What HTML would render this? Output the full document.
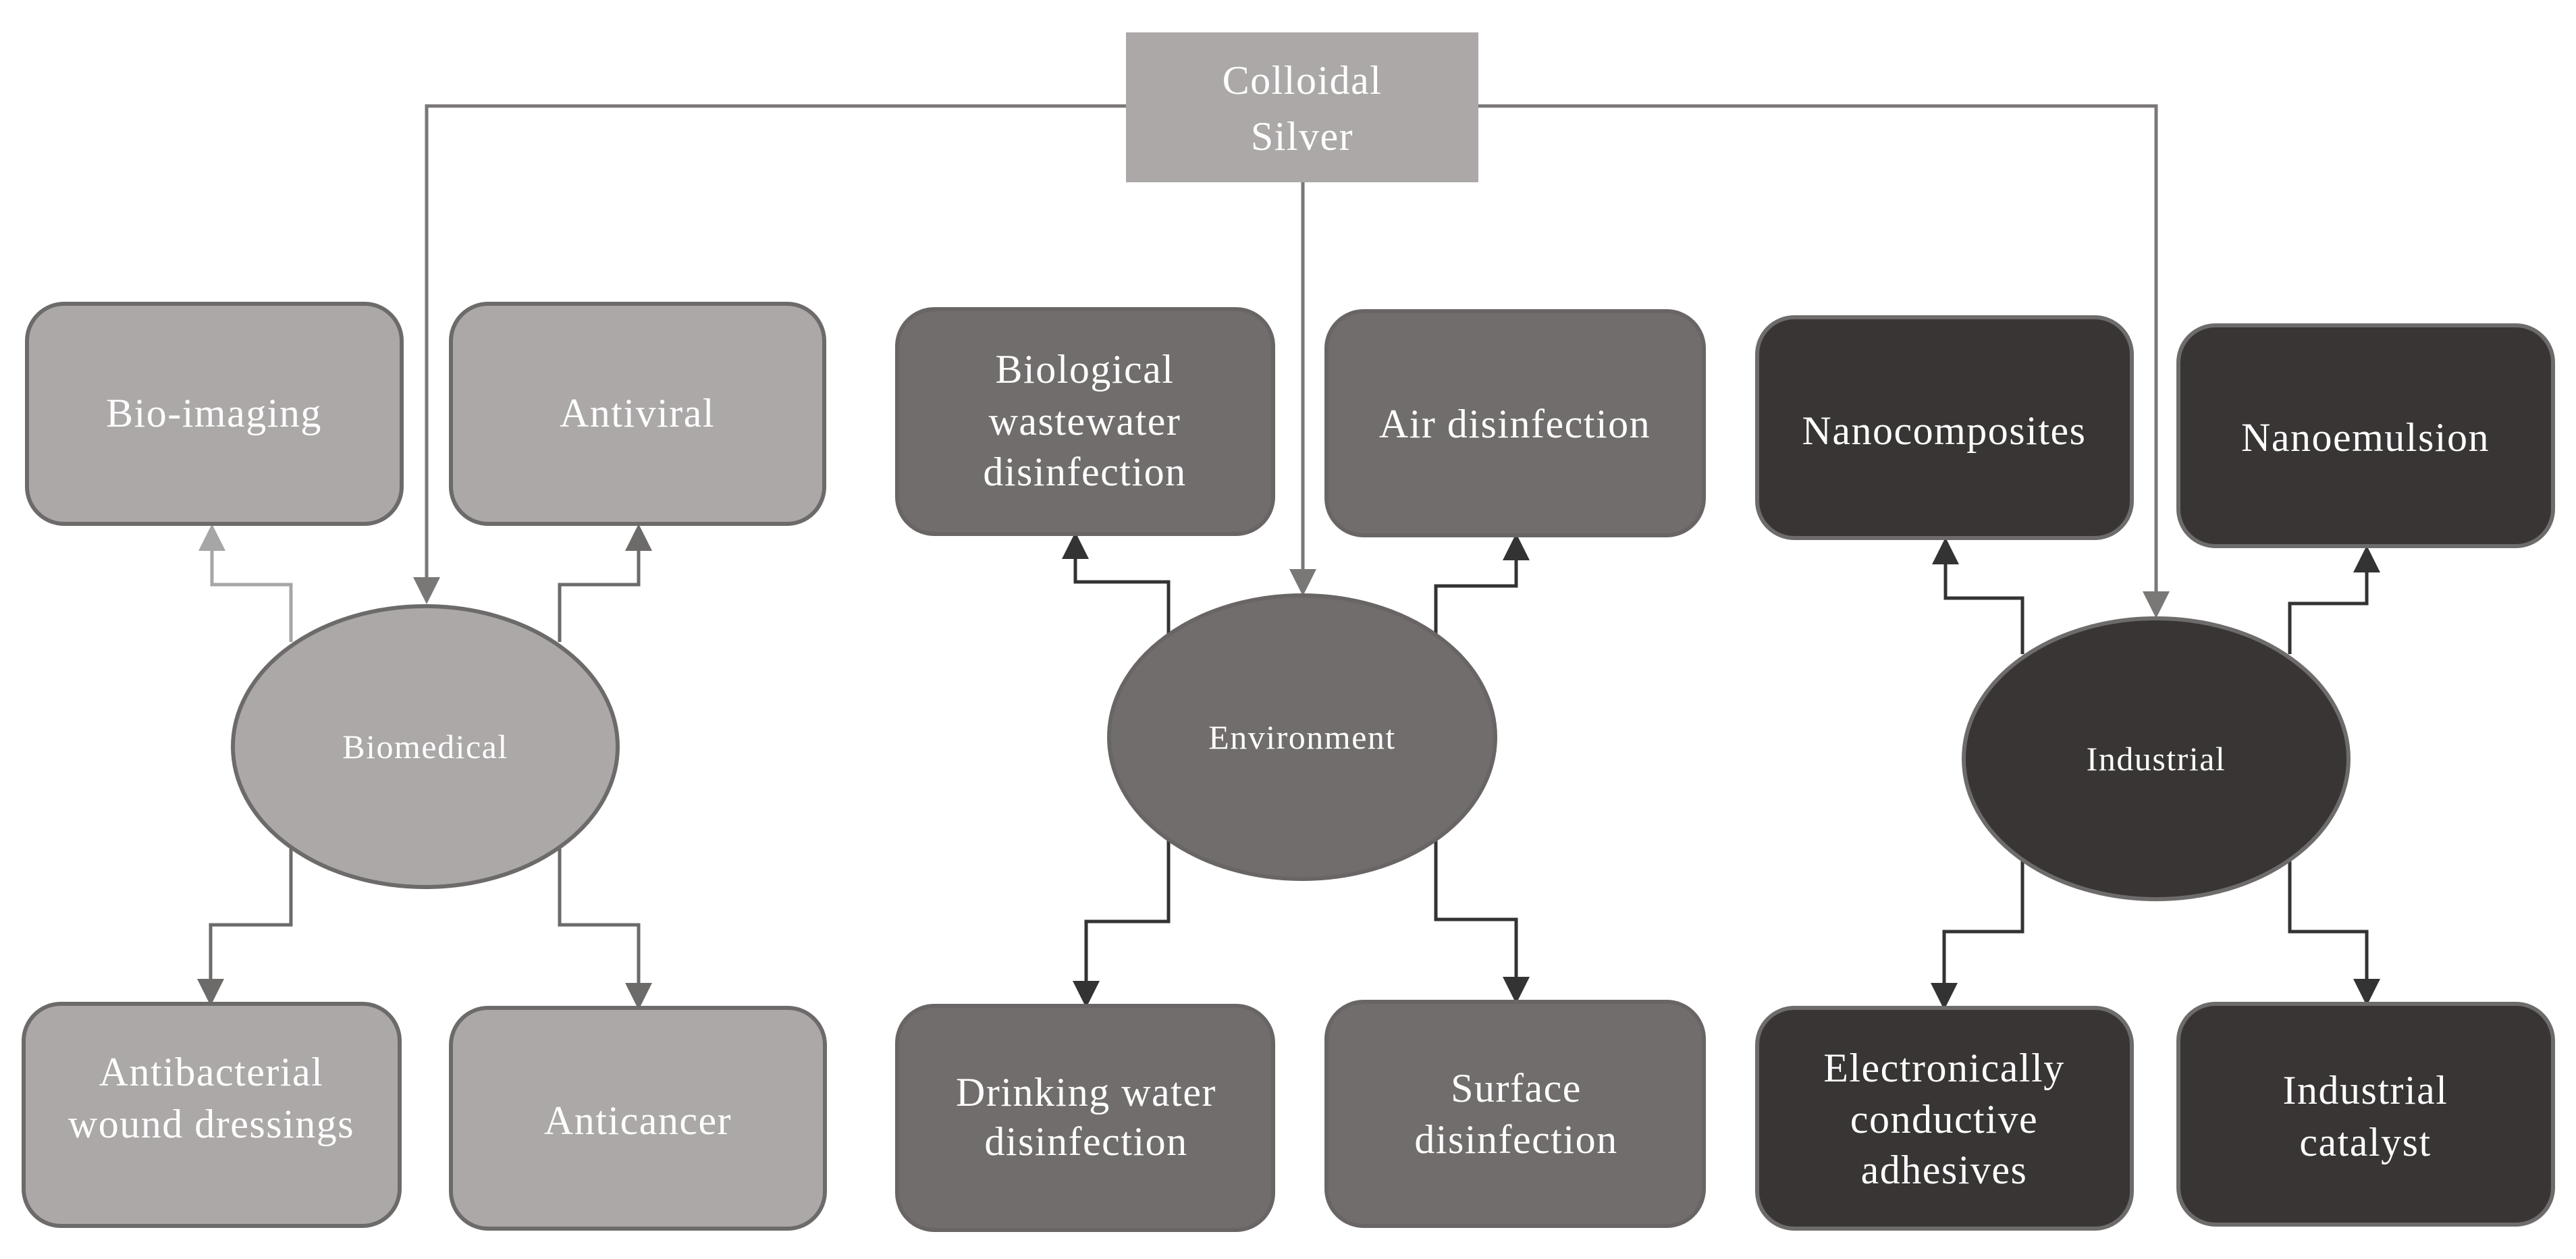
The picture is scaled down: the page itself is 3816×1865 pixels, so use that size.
<!DOCTYPE html>
<html><head><meta charset="utf-8"><style>
html,body{margin:0;padding:0;background:#fff;}
svg{display:block;}
text{font-family:"Liberation Serif","DejaVu Serif","Times New Roman",Times,serif;fill:#fff;text-anchor:middle;dominant-baseline:central;letter-spacing:1.5px;}
.b{font-size:60px;}
.e{font-size:50px;}
</style></head><body>
<svg width="3816" height="1865" viewBox="0 0 3816 1865" xmlns="http://www.w3.org/2000/svg" font-family="Liberation Serif, serif">
<defs>
<marker id="aL" markerWidth="8" markerHeight="8" refX="7" refY="4" orient="auto" markerUnits="strokeWidth"><path d="M0,0 L8,4 L0,8 z" fill="#a6a6a6"/></marker>
<marker id="aM" markerWidth="8" markerHeight="8" refX="7" refY="4" orient="auto" markerUnits="strokeWidth"><path d="M0,0 L8,4 L0,8 z" fill="#6d6a6a"/></marker>
<marker id="aD" markerWidth="8" markerHeight="8" refX="7" refY="4" orient="auto" markerUnits="strokeWidth"><path d="M0,0 L8,4 L0,8 z" fill="#333"/></marker>
<marker id="aG" markerWidth="8" markerHeight="8" refX="7" refY="4" orient="auto" markerUnits="strokeWidth"><path d="M0,0 L8,4 L0,8 z" fill="#7a7777"/></marker>
</defs>
<g fill="none" stroke-width="5">
<path d="M1668,157 H632 V890" stroke="#7a7777" marker-end="url(#aG)"/>
<path d="M1930,270 V878" stroke="#7a7777" marker-end="url(#aG)"/>
<path d="M2190,157 H3194 V911" stroke="#7a7777" marker-end="url(#aG)"/>
<path d="M431,951 V866 H314 V781" stroke="#a6a6a6" marker-end="url(#aL)"/>
<path d="M829,951 V866 H946 V781" stroke="#6d6a6a" marker-end="url(#aM)"/>
<path d="M431,1255 V1370 H312 V1485" stroke="#6d6a6a" marker-end="url(#aM)"/>
<path d="M829,1255 V1370 H946 V1491" stroke="#6d6a6a" marker-end="url(#aM)"/>
<path d="M1731,940 V862 H1593 V793" stroke="#333" marker-end="url(#aD)"/>
<path d="M2127,940 V868 H2246 V795" stroke="#333" marker-end="url(#aD)"/>
<path d="M1731,1243 V1365 H1609 V1488" stroke="#333" marker-end="url(#aD)"/>
<path d="M2127,1243 V1362 H2246 V1482" stroke="#333" marker-end="url(#aD)"/>
<path d="M2996,969 V886 H2882 V801" stroke="#333" marker-end="url(#aD)"/>
<path d="M3392,969 V894 H3506 V813" stroke="#333" marker-end="url(#aD)"/>
<path d="M2996,1273 V1380 H2880 V1491" stroke="#333" marker-end="url(#aD)"/>
<path d="M3392,1273 V1380 H3506 V1485" stroke="#333" marker-end="url(#aD)"/>
</g>
<rect x="1668" y="48" width="522" height="222" fill="#aca8a8"/>
<text class="b" x="1929" y="119">Colloidal</text>
<text class="b" x="1929" y="202">Silver</text>
<g fill="#aca8a8" stroke="#6d6a6a" stroke-width="6">
<rect x="40" y="450" width="555" height="326" rx="55"/>
<rect x="668" y="450" width="553" height="326" rx="55"/>
<rect x="35" y="1487" width="557" height="329" rx="55"/>
<rect x="668" y="1493" width="554" height="327" rx="55"/>
<ellipse cx="630" cy="1106" rx="285" ry="208"/>
</g>
<text class="b" x="317" y="612">Bio-imaging</text>
<text class="b" x="944" y="612">Antiviral</text>
<text class="b" x="313" y="1588">Antibacterial</text>
<text class="b" x="313" y="1665">wound dressings</text>
<text class="b" x="945" y="1660">Anticancer</text>
<text class="e" x="630" y="1106">Biomedical</text>
<g fill="#726d6d" stroke="#6a6565" stroke-width="6">
<rect x="1329" y="458" width="557" height="333" rx="55"/>
<rect x="1965" y="461" width="559" height="332" rx="55"/>
<rect x="1329" y="1490" width="557" height="332" rx="55"/>
<rect x="1965" y="1484" width="559" height="332" rx="55"/>
<ellipse cx="1929" cy="1092" rx="286" ry="210"/>
</g>
<text class="b" x="1607" y="547">Biological</text>
<text class="b" x="1607" y="624">wastewater</text>
<text class="b" x="1607" y="699">disinfection</text>
<text class="b" x="2244" y="628">Air disinfection</text>
<text class="b" x="1609" y="1618">Drinking water</text>
<text class="b" x="1609" y="1691">disinfection</text>
<text class="b" x="2246" y="1612">Surface</text>
<text class="b" x="2246" y="1688">disinfection</text>
<text class="e" x="1929" y="1092">Environment</text>
<g fill="#393535" stroke="#6e6b6b" stroke-width="6">
<rect x="2603" y="470" width="555" height="327" rx="55"/>
<rect x="3227" y="482" width="555" height="327" rx="55"/>
<rect x="2603" y="1493" width="555" height="327" rx="55"/>
<rect x="3227" y="1487" width="555" height="327" rx="55"/>
<ellipse cx="3194" cy="1124" rx="285" ry="208"/>
</g>
<text class="b" x="2880" y="638">Nanocomposites</text>
<text class="b" x="3504" y="648">Nanoemulsion</text>
<text class="b" x="2880" y="1582">Electronically</text>
<text class="b" x="2880" y="1658">conductive</text>
<text class="b" x="2880" y="1733">adhesives</text>
<text class="b" x="3504" y="1615">Industrial</text>
<text class="b" x="3504" y="1692">catalyst</text>
<text class="e" x="3194" y="1124">Industrial</text>
</svg>
</body></html>
